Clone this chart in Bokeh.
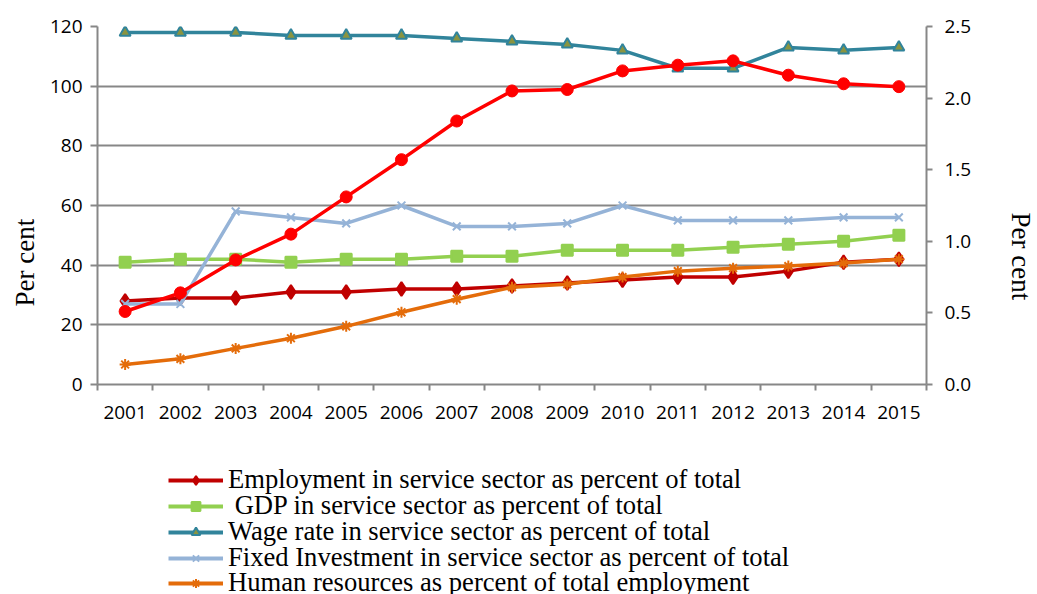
from bokeh.plotting import figure
from bokeh.layouts import column
from bokeh.models import Range1d, LinearAxis, FixedTicker, Legend, LegendItem, NumeralTickFormatter, Title
from bokeh.embed import file_html
from bokeh.resources import INLINE

years = [str(y) for y in range(2001, 2016)]
employment = [28, 29, 29, 31, 31, 32, 32, 33, 34, 35, 36, 36, 38, 41, 42]
gdp = [41, 42, 42, 41, 42, 42, 43, 43, 45, 45, 45, 46, 47, 48, 50]
wage = [118, 118, 118, 117, 117, 117, 116, 115, 114, 112, 106, 106, 113, 112, 113]
fixed_inv = [27, 27, 58, 56, 54, 60, 53, 53, 54, 60, 55, 55, 55, 56, 56]
human = [6.7, 8.6, 12.1, 15.5, 19.5, 24.2, 28.6, 32.6, 33.6, 36.0, 38.0, 39.0, 39.7, 40.7, 42.0]
red_series = [0.51, 0.64, 0.87, 1.05, 1.31, 1.57, 1.84, 2.05, 2.06, 2.19, 2.23, 2.26, 2.16, 2.10, 2.08]

left_ticks = [0, 20, 40, 60, 80, 100, 120]
right_ticks = [0.0, 0.5, 1.0, 1.5, 2.0, 2.5]

xs = [i + 0.5 for i in range(len(years))]
bounds = list(range(len(years) + 1))

AX = "#878787"
TICK_FONT = "Open Sans"
SERIF = "Liberation Serif"

p = figure(frame_width=829, frame_height=358, output_backend="svg", toolbar_location=None,
           x_range=Range1d(0, len(years)), y_range=Range1d(0, 120),
           min_border_left=0, min_border_right=0, min_border_top=26, min_border_bottom=50)
p.outline_line_color = None
p.background_fill_color = "white"
p.border_fill_color = "white"

p.extra_y_ranges = {"right": Range1d(0, 2.5)}

# x axis
xa = p.xaxis[0]
xa.ticker = FixedTicker(ticks=xs, minor_ticks=bounds)
xa.major_label_overrides = {x: y for x, y in zip(xs, years)}
xa.major_tick_line_color = None
xa.minor_tick_line_color = AX
xa.minor_tick_line_width = 2
xa.minor_tick_out = 6
xa.minor_tick_in = 0
xa.axis_line_color = AX
xa.axis_line_width = 2
xa.major_label_standoff = 15
xa.major_label_text_font = TICK_FONT
xa.major_label_text_font_size = "19px"
xa.major_label_text_color = "black"

# left axis
ya = p.yaxis[0]
ya.ticker = FixedTicker(ticks=left_ticks)
ya.minor_tick_line_color = None
ya.major_tick_line_color = AX
ya.major_tick_line_width = 2
ya.major_tick_out = 7
ya.major_tick_in = 0
ya.axis_line_color = AX
ya.axis_line_width = 2
ya.major_label_standoff = 8
ya.major_label_text_font = TICK_FONT
ya.major_label_text_font_size = "19px"
ya.major_label_text_color = "black"

# right axis
ra = LinearAxis(y_range_name="right", ticker=FixedTicker(ticks=right_ticks),
                formatter=NumeralTickFormatter(format="0.0"))
ra.minor_tick_line_color = None
ra.major_tick_line_color = AX
ra.major_tick_line_width = 2
ra.major_tick_out = 6
ra.major_tick_in = 0
ra.axis_line_color = AX
ra.axis_line_width = 2
ra.major_label_standoff = 12
ra.major_label_text_font = TICK_FONT
ra.major_label_text_font_size = "19px"
ra.major_label_text_color = "black"
p.add_layout(ra, "right")

lt = Title(text="Per cent", align="left", offset=78, standoff=14,
           text_font=SERIF, text_font_style="normal", text_font_size="27px", text_color="black")
p.add_layout(lt, "left")
rt = Title(text="Per cent", align="left", offset=186, standoff=62,
           text_font=SERIF, text_font_style="normal", text_font_size="27px", text_color="black")
p.add_layout(rt, "right")

p.xgrid.grid_line_color = None
p.ygrid.grid_line_color = AX
p.ygrid.grid_line_width = 2
p.ygrid.ticker = FixedTicker(ticks=left_ticks)

LW = 3.5
series = [
    ("Employment in service sector as percent of total", employment, "#C00000", "diamond", 14, "#C00000"),
    (" GDP in service sector as percent of total", gdp, "#92D050", "square", 11, "#92D050"),
    ("Wage rate in service sector as percent of total", wage, "#31849B", "triangle", 11, "#8a9440"),
    ("Fixed Investment in service sector as percent of total", fixed_inv, "#95B3D7", "x", 11, "#95B3D7"),
    ("Human resources as percent of total employment", human, "#E46C0A", "asterisk", 11, "#E46C0A"),
]

for label, vals, col, marker, size, fill in series:
    p.line(xs, vals, line_color=col, line_width=LW)
    p.scatter(xs, vals, marker=marker, size=size, line_color=col, fill_color=fill, line_width=2)

p.line(xs, red_series, line_color="#FF0000", line_width=LW, y_range_name="right")
p.scatter(xs, red_series, marker="circle", size=12, line_color="#FF0000", fill_color="#FF0000", y_range_name="right")

# legend strip below the chart (series drawn out of view; only their legend glyphs show)
lf = figure(width=1021, height=160, output_backend="svg", toolbar_location=None,
            x_axis_type=None, y_axis_type=None, x_range=Range1d(0, len(years)), y_range=Range1d(-2, -1),
            min_border_left=0, min_border_right=0, min_border_top=0, min_border_bottom=0)
lf.outline_line_color = None
lf.grid.grid_line_color = None
lf.background_fill_color = "white"
lf.border_fill_color = "white"

row_offsets = [99, 73, 47, 21, -4]
for (label, vals, col, marker, size, fill), yoff in zip(series, row_offsets):
    lr = lf.line(xs, vals, line_color=col, line_width=4)
    sr = lf.scatter(xs, vals, marker=marker, size=size, line_color=col, fill_color=fill, line_width=2)
    lg = Legend(items=[LegendItem(label=label, renderers=[lr, sr])], location=(71, yoff),
                orientation="vertical",
                label_text_font=SERIF, label_text_font_size="26.6px", label_text_color="black",
                glyph_width=55, glyph_height=22, label_height=22, label_standoff=5,
                spacing=0, padding=0, margin=0, border_line_color=None,
                background_fill_alpha=0)
    lf.add_layout(lg, "center")

layout = column(p, lf, spacing=0)
open("out.html", "w").write(file_html(layout, INLINE))
